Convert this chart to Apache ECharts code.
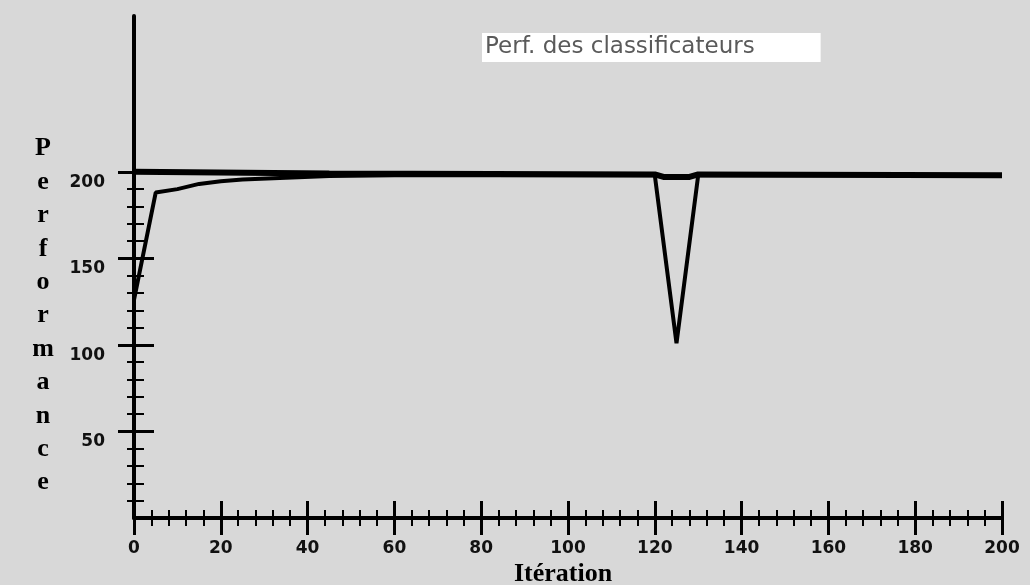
<!DOCTYPE html>
<html>
<head>
<meta charset="utf-8">
<script src="https://cdn.jsdelivr.net/npm/echarts@6/dist/echarts.min.js"></script>
<style>
html,body{margin:0;padding:0;background:#d8d8d8;}
#chart{width:1030px;height:585px;}
</style>
</head>
<body>
<div id="chart"></div>
<script>
// ---- data ----
var titleText = 'Perf. des classificateurs';
var xAxisTitle = 'Itération';
var yAxisTitle = 'Performance';
var xTickValues = [0, 20, 40, 60, 80, 100, 120, 140, 160, 180, 200];
var yTickValues = [50, 100, 150, 200];
var yMinorTickValues = [10, 20, 30, 40, 60, 70, 80, 90, 110, 120, 130, 140, 160, 170, 180, 190];
// upper (best) performance line
var bestIter = [0, 45, 120, 122, 128, 130, 200];
var bestPerf = [200, 199, 198.5, 197, 197, 198.5, 198];
// classifier performance curve
var perfIter = [0, 5, 10, 15, 20, 25, 35, 45, 60, 120, 125, 130, 200];
var perfVals = [126, 188, 190, 193, 194.5, 195.5, 196.5, 197.5, 198, 198, 101, 198, 198];

function pairs(xs, ys) { return xs.map(function (x, i) { return [x, ys[i]]; }); }

var chart = echarts.init(document.getElementById('chart'));
var grid = { left: 134, right: 28, top: 16, bottom: 67 };
var labelFont = { fontFamily: 'DejaVu Sans', fontWeight: 'bold', fontSize: 17, color: '#111' };

function xAx(inside, showLabel) {
  return {
    type: 'value', position: 'bottom', offset: 0, min: 0, max: 200, interval: 20,
    axisLine: { show: !inside, lineStyle: { color: '#000', width: 4 } },
    axisTick: { show: true, inside: inside, length: 17, lineStyle: { color: '#000', width: 3 } },
    minorTick: { show: true, splitNumber: 5, length: 8, lineStyle: { color: '#000', width: 2 } },
    axisLabel: Object.assign({ show: showLabel, margin: 22 }, labelFont),
    splitLine: { show: false }
  };
}
function yAx(inside, len, vals, showLine, showLabel, w) {
  return {
    type: 'value', position: 'left', offset: 0, min: 0, max: 290,
    axisLine: { show: showLine, lineStyle: { color: '#000', width: 4 } },
    axisTick: { show: true, inside: inside, length: len, customValues: vals, lineStyle: { color: '#000', width: w } },
    axisLabel: Object.assign({ show: showLabel, customValues: yTickValues, margin: 29, verticalAlign: 'top', padding: [2, 0, 0, 0] }, labelFont),
    splitLine: { show: false }
  };
}

chart.setOption({
  backgroundColor: '#d8d8d8',
  animation: false,
  title: {
    text: titleText, left: 482, top: 33,
    backgroundColor: '#ffffff', padding: [3, 66, 3, 3],
    textStyle: { fontFamily: 'DejaVu Sans', fontWeight: 'normal', fontSize: 23, color: '#5a5a5a' }
  },
  grid: grid,
  xAxis: [xAx(false, true), xAx(true, false)],
  yAxis: [
    yAx(false, 16, yTickValues, true, true, 3),
    yAx(true, 20, yTickValues, false, false, 3),
    yAx(false, 7, yMinorTickValues, false, false, 2),
    yAx(true, 10, yMinorTickValues, false, false, 2)
  ],
  graphic: [
    { type: 'text', style: { text: yAxisTitle.split('').join('\n'), x: 43, y: 132, textAlign: 'center', textVerticalAlign: 'top', font: 'bold 26px "Liberation Serif"', lineHeight: 33.4, fill: '#000' } },
    { type: 'text', style: { text: xAxisTitle, x: 563, y: 574, textAlign: 'center', textVerticalAlign: 'middle', font: 'bold 26px "Liberation Serif"', fill: '#000' } }
  ],
  series: [
    { type: 'line', data: pairs(bestIter, bestPerf), symbol: 'none', lineStyle: { color: '#000', width: 6 }, z: 3 },
    { type: 'line', data: pairs(perfIter, perfVals), symbol: 'none', lineStyle: { color: '#000', width: 4 }, z: 4 }
  ]
});
</script>
</body>
</html>
